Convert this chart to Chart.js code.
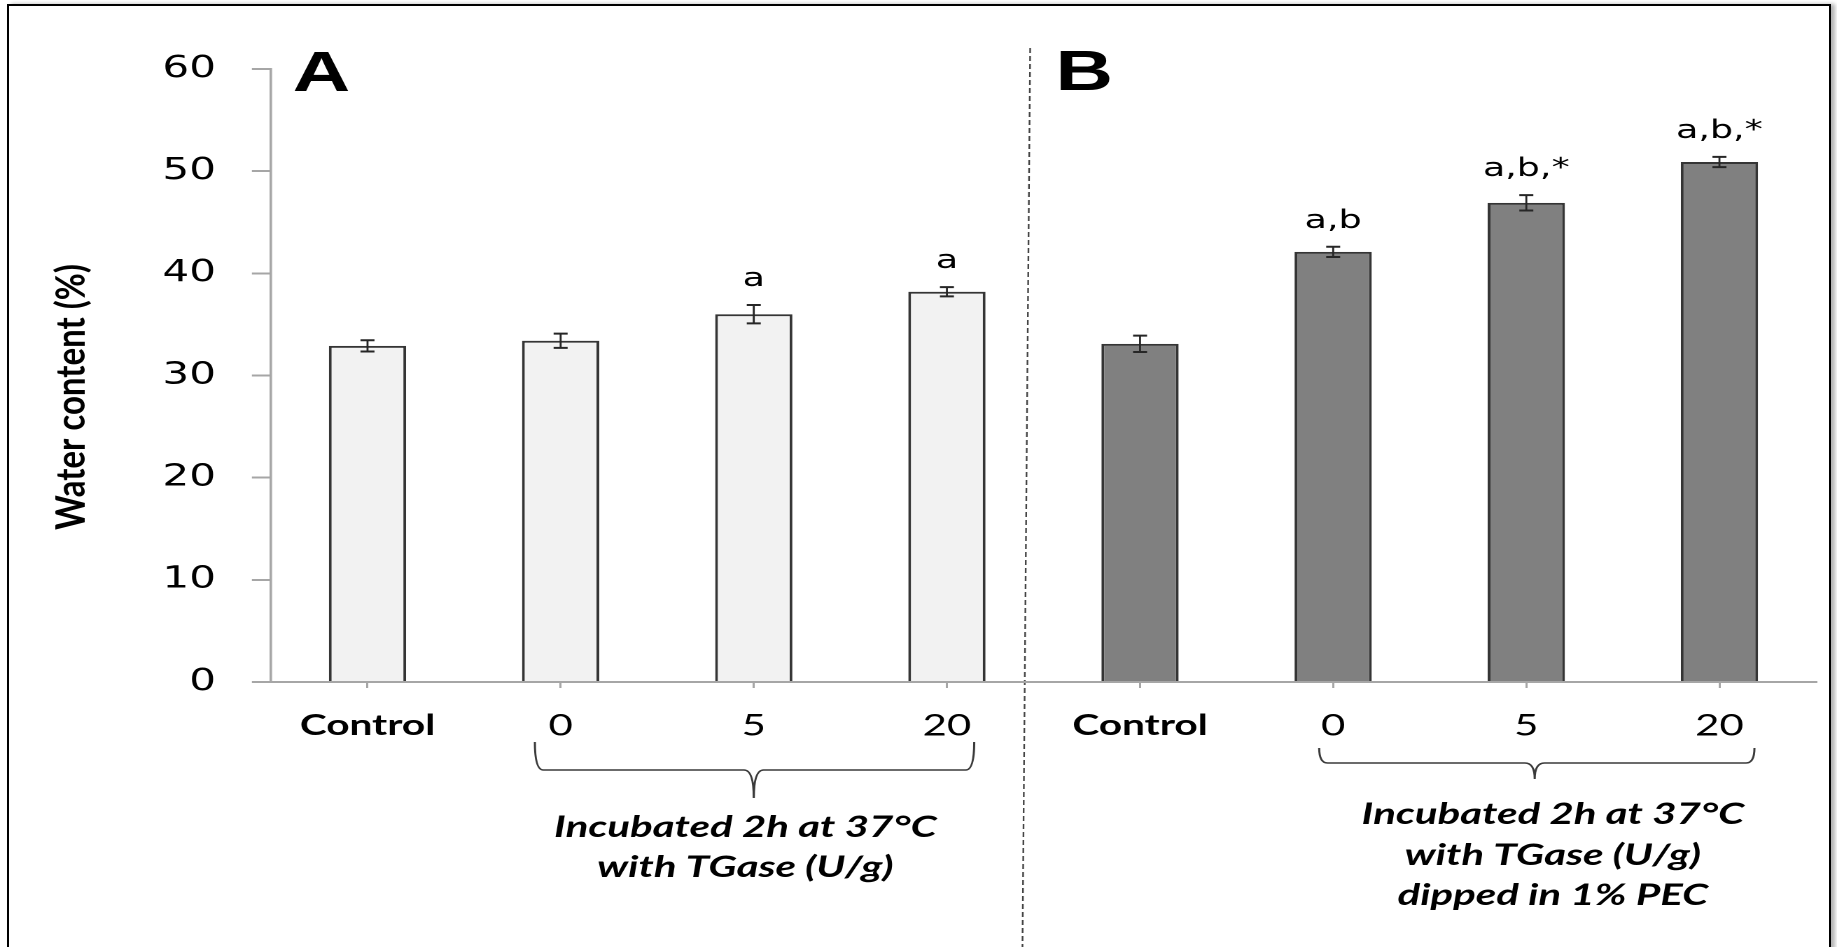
<!DOCTYPE html>
<html>
<head>
<meta charset="utf-8">
<script src="https://cdn.jsdelivr.net/npm/chart.js@4.4.1/dist/chart.umd.min.js"></script>
<style>
    html, body { margin: 0; padding: 0; background: #fff; overflow: hidden; }
    /* the source figure is stretched sideways, so draw narrow and stretch */
    #wrap { position: absolute; left: 0; top: 0; width: 1312px; height: 947px; transform: scaleX(1.40015); transform-origin: 0 0; }
    #frame { position: absolute; left: 7px; top: 4px; width: 1820px; height: 1000px; border: 2px solid #000; box-shadow: 4px 0 4px rgba(0,0,0,0.3); pointer-events: none; }
</style>
</head>
<body>
<div id="wrap"><canvas id="waterChart"></canvas></div>
<div id="frame"></div>
<script>
const categories = ['Control', '0', '5', '20', 'Control', '0', '5', '20'];
const waterContent = [32.9, 33.4, 36.0, 38.2, 33.1, 42.1, 46.9, 50.9];
const errorSD = [0.55, 0.7, 0.9, 0.45, 0.8, 0.5, 0.75, 0.5];
const sigLetters = ['', '', 'a', 'a', '', 'a,b', 'a,b,*', 'a,b,*'];
const panel = ['A', 'A', 'A', 'A', 'B', 'B', 'B', 'B'];
const yTicks = [0, 10, 20, 30, 40, 50, 60];
const captionA = ['Incubated 2h at 37°C', 'with TGase (U/g)'];
const captionB = ['Incubated 2h at 37°C', 'with TGase (U/g)', 'dipped in 1% PEC'];

function brace(ctx, L, R, M, top, line, point) {
    const r = 6, r2 = 7;
    ctx.beginPath();
    ctx.moveTo(L, top);
    ctx.quadraticCurveTo(L, line, L + r, line);
    ctx.lineTo(M - r2, line);
    ctx.quadraticCurveTo(M, line, M, point);
    ctx.quadraticCurveTo(M, line, M + r2, line);
    ctx.lineTo(R - r, line);
    ctx.quadraticCurveTo(R, line, R, top);
    ctx.stroke();
}

const extras = {
    id: 'extras',
    afterDatasetsDraw(chart) {
        const { ctx, chartArea } = chart;
        const x = chart.scales.x, y = chart.scales.y;
        ctx.save();

        // error bars + significance letters
        ctx.strokeStyle = '#262626';
        ctx.fillStyle = '#000';
        ctx.font = '26px "DejaVu Sans"';
        ctx.textAlign = 'center';
        ctx.textBaseline = 'alphabetic';
        waterContent.forEach((v, i) => {
            const cx = x.getPixelForValue(i);
            const yt = y.getPixelForValue(v + errorSD[i]);
            const yb = y.getPixelForValue(v - errorSD[i]);
            ctx.lineWidth = 1.4;
            ctx.beginPath(); ctx.moveTo(cx, yt); ctx.lineTo(cx, yb); ctx.stroke();
            ctx.lineWidth = 2;
            ctx.beginPath();
            ctx.moveTo(cx - 5, yt); ctx.lineTo(cx + 5, yt);
            ctx.moveTo(cx - 5, yb); ctx.lineTo(cx + 5, yb);
            ctx.stroke();
            if (sigLetters[i]) ctx.fillText(sigLetters[i], cx, yt - 19);
        });

        const split = (x.getPixelForValue(3) + x.getPixelForValue(4)) / 2;

        // panel letters
        ctx.font = 'bold 57px "Liberation Sans"';
        ctx.textAlign = 'left';
        ctx.fillText('A', chartArea.left + 15.5, 91);
        ctx.fillText('B', split + 8.5, 90);

        // dashed separator
        ctx.strokeStyle = '#444';
        ctx.lineWidth = 1.2;
        ctx.setLineDash([5, 3]);
        ctx.beginPath();
        ctx.moveTo(split - 9.5, 48);
        ctx.lineTo(split - 15, 947);
        ctx.stroke();
        ctx.setLineDash([]);

        // braces under the TGase groups
        ctx.strokeStyle = '#3a3a3a';
        ctx.lineWidth = 1.5;
        brace(ctx, x.getPixelForValue(1) - 18.4, x.getPixelForValue(3) + 19.5, x.getPixelForValue(2), 742, 770, 798);
        brace(ctx, x.getPixelForValue(5) - 10, x.getPixelForValue(7) + 25, x.getPixelForValue(6) + 6, 748, 763, 779);

        // captions
        ctx.font = 'italic bold 30px Lato';
        ctx.textAlign = 'center';
        const baseA = [837, 877];
        captionA.forEach((t, i) => ctx.fillText(t, x.getPixelForValue(2) - 6, baseA[i]));
        const baseB = [824, 865, 905];
        captionB.forEach((t, i) => ctx.fillText(t, x.getPixelForValue(6) + 19, baseB[i]));

        // y axis title, narrow like the original
        ctx.translate(51, 397);
        ctx.scale(0.88, 1);
        ctx.rotate(-Math.PI / 2);
        ctx.font = 'bold 33px Lato';
        ctx.textBaseline = 'middle';
        ctx.fillText('Water content (%)', 0, 0);

        ctx.restore();
    }
};

new Chart(document.getElementById('waterChart'), {
    type: 'bar',
    data: {
        labels: categories,
        datasets: [{
            data: waterContent,
            backgroundColor: panel.map(p => p === 'A' ? '#f2f2f2' : '#808080'),
            borderColor: '#353535',
            borderWidth: 2,
            barPercentage: 0.4,
            categoryPercentage: 1
        }]
    },
    options: {
        responsive: true,
        maintainAspectRatio: false,
        animation: false,
        devicePixelRatio: 2,
        layout: { padding: { left: 0, right: 15, top: 69, bottom: 0 } },
        plugins: { legend: { display: false }, tooltip: { enabled: false } },
        scales: {
            x: {
                grid: { drawOnChartArea: false, offset: false, tickLength: 6, color: '#a6a6a6', lineWidth: 1.5 },
                border: { color: '#a6a6a6', width: 2, z: 1 },
                ticks: {
                    color: '#000',
                    padding: 20,
                    autoSkip: false,
                    maxRotation: 0,
                    font: c => ({
                        family: 'Lato',
                        size: c.index % 4 === 0 ? 29 : 30,
                        weight: c.index % 4 === 0 ? 'bold' : 'normal'
                    })
                },
                afterFit: s => { s.height = 265; }
            },
            y: {
                min: 0,
                max: 60,
                afterBuildTicks: s => { s.ticks = yTicks.map(v => ({ value: v })); },
                grid: { drawOnChartArea: false, tickLength: 13.6, color: '#a6a6a6', lineWidth: 2 },
                border: { color: '#a6a6a6', width: 1.8 },
                ticks: { color: '#000', padding: 25.7, font: { family: 'DejaVu Sans', size: 30 } },
                afterFit: s => { s.width = 193.5; }
            }
        }
    },
    plugins: [extras]
});
</script>
</body>
</html>
